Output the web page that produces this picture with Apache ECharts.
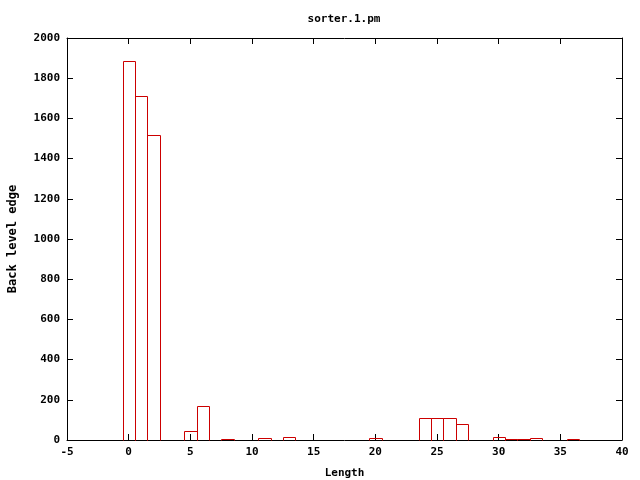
<!DOCTYPE html>
<html>
<head>
<meta charset="utf-8">
<script src="https://cdn.jsdelivr.net/npm/echarts@6/dist/echarts.min.js"></script>
<style>html,body{margin:0;padding:0;background:#fff;}#c{width:640px;height:480px;}</style>
</head>
<body>
<div id="c"></div>
<script>
const lengths = [0, 1, 2, 5, 6, 8, 11, 13, 20, 24, 25, 26, 27, 30, 31, 32, 33, 36];
const counts = [1885, 1710, 1518, 45, 170, 5, 10, 15, 10, 108, 108, 108, 80, 15, 5, 5, 10, 5];
const titleText = 'sorter.1.pm';
const xName = 'Length';
const yName = 'Back level edge';

const FONT = '"DejaVu Sans Mono", "Liberation Mono", monospace';
const data = lengths.map((x, i) => [x, counts[i]]);
const chart = echarts.init(document.getElementById('c'), null, {renderer: 'canvas'});
const tickStyle = {show: true, inside: true, length: 6, lineStyle: {color: '#000', width: 1}};
const lineStyle = {show: true, onZero: false, lineStyle: {color: '#000', width: 1}};
const labelStyle = {fontFamily: FONT, fontSize: 11, fontWeight: 'bold', color: '#000', margin: 7,
  formatter: v => String(v)};
chart.setOption({
  animation: false,
  backgroundColor: '#fff',
  color: ['#cc0000'],
  title: {text: titleText, left: 339, top: 9, textAlign: 'center',
    textStyle: {fontFamily: FONT, fontSize: 11, fontWeight: 'bold', color: '#000'}},
  grid: {left: 67, right: 18, top: 38, bottom: 40, show: false, containLabel: false, outerBoundsMode: 'none'},
  xAxis: [{
    type: 'value', min: -5, max: 40, interval: 5, position: 'bottom',
    name: xName, nameLocation: 'middle', nameGap: 28,
    nameTextStyle: {fontFamily: FONT, fontSize: 11, fontWeight: 'bold', color: '#000'},
    axisLine: lineStyle, axisTick: tickStyle, axisLabel: labelStyle,
    splitLine: {show: false}
  }, {
    type: 'value', min: -5, max: 40, interval: 5, position: 'top',
    axisLine: lineStyle, axisTick: tickStyle, axisLabel: {show: false}, splitLine: {show: false}
  }],
  yAxis: [{
    type: 'value', min: 0, max: 2000, interval: 200, position: 'left',
    name: yName, nameLocation: 'middle', nameGap: 48, nameRotate: 90,
    nameTextStyle: {fontFamily: FONT, fontSize: 12, fontWeight: 'bold', color: '#000'},
    axisLine: lineStyle, axisTick: tickStyle, axisLabel: labelStyle,
    splitLine: {show: false}
  }, {
    type: 'value', min: 0, max: 2000, interval: 200, position: 'right',
    axisLine: lineStyle, axisTick: tickStyle, axisLabel: {show: false}, splitLine: {show: false}
  }],
  series: [{
    type: 'custom',
    xAxisIndex: 0, yAxisIndex: 0,
    silent: true,
    emphasis: {disabled: true},
    data: data,
    renderItem: function (params, api) {
      const x = api.value(0), y = api.value(1);
      const p1 = api.coord([x - 0.5, y]);
      const p2 = api.coord([x + 0.5, 0]);
      const x0 = Math.round(p1[0]) + 0.5, x1 = Math.round(p2[0]) + 0.5;
      const yt = Math.round(p1[1]) + 0.5, yb = Math.round(p2[1]) + 0.5;
      return {
        type: 'polyline',
        shape: {points: [[x0, yb], [x0, yt], [x1, yt], [x1, yb]]},
        style: {fill: null, stroke: '#cc0000', lineWidth: 1}
      };
    }
  }]
});
</script>
</body>
</html>
